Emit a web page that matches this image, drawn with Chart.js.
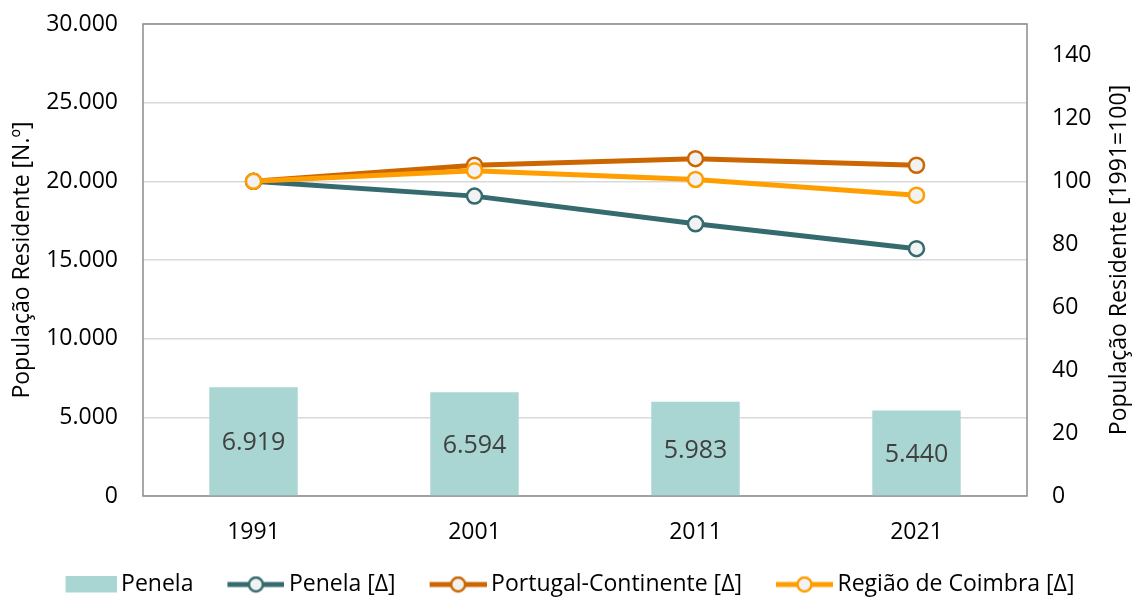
<!doctype html>
<html>
<head>
  <meta charset="utf-8" />
  <title>População Residente - Penela</title>
  <script src="https://cdn.jsdelivr.net/npm/chart.js"></script>
  <style>
    html, body { margin: 0; padding: 0; background: #fff; }
    #wrap { width: 1132px; height: 599px; }
  </style>
</head>
<body>
  <div id="wrap"><canvas id="chart"></canvas></div>

  <script>
    // data
    const years = ["1991", "2001", "2011", "2021"];
    const penelaPop = [6919, 6594, 5983, 5440];
    const penelaIdx = [100, 95.3, 86.5, 78.6];
    const continenteIdx = [100, 105.1, 107.2, 105.1];
    const coimbraIdx = [100, 103.4, 100.6, 95.6];
    const rightTicks = [0, 20, 40, 60, 80, 100, 120, 140];

    const FONT = "'Open Sans', sans-serif";
    const barColor = "#A9D6D2";
    const colPenela = "#356A6E";
    const colCont = "#CC6600";
    const colCoimbra = "#FF9E00";
    const markerFill = "#F2F2F2";

    function fmt(v) {
      return String(v).replace(/\B(?=(\d{3})+(?!\d))/g, ".");
    }

    // legend symbols: visible part sits at the right of a wider transparent image
    const SYM_W = 96;
    function barSymbol() {
      const c = document.createElement("canvas");
      c.width = SYM_W; c.height = 18;
      const g = c.getContext("2d");
      g.fillStyle = barColor;
      g.fillRect(SYM_W - 51, 0, 51, 17);
      return c;
    }
    function lineSymbol(color) {
      const c = document.createElement("canvas");
      c.width = SYM_W; c.height = 18;
      const g = c.getContext("2d");
      const x0 = SYM_W - 57;
      g.strokeStyle = color; g.lineWidth = 5;
      g.beginPath(); g.moveTo(x0, 9); g.lineTo(SYM_W, 9); g.stroke();
      g.beginPath(); g.arc(x0 + 28.5, 9, 7, 0, Math.PI * 2);
      g.fillStyle = markerFill; g.fill();
      g.lineWidth = 2.5; g.stroke();
      return c;
    }

    const barLabels = {
      id: "barLabels",
      afterDatasetsDraw(chart) {
        const ctx = chart.ctx;
        const meta = chart.getDatasetMeta(0);
        ctx.save();
        ctx.font = "25px " + FONT;
        ctx.fillStyle = "#404040";
        ctx.textAlign = "center";
        ctx.textBaseline = "middle";
        meta.data.forEach((bar, i) => {
          const p = bar.getProps(["x", "y", "base"], true);
          ctx.fillText(fmt(penelaPop[i]), p.x, (p.y + p.base) / 2 + 2);
        });
        ctx.restore();
      }
    };

    // plot frame + right axis title read bottom-to-top
    const frame = {
      id: "frame",
      beforeDatasetsDraw(chart) {
        const a = chart.chartArea, ctx = chart.ctx;
        ctx.save();
        ctx.strokeStyle = "#8C8C8C";
        ctx.lineWidth = 1.5;
        ctx.strokeRect(a.left, a.top, a.right - a.left, a.bottom - a.top);
        ctx.restore();
      },
      afterDraw(chart) {
        const a = chart.chartArea, ctx = chart.ctx;
        ctx.save();
        ctx.translate(1119, (a.top + a.bottom) / 2);
        ctx.rotate(-Math.PI / 2);
        ctx.font = "23px " + FONT;
        ctx.fillStyle = "#000";
        ctx.textAlign = "center";
        ctx.textBaseline = "middle";
        ctx.fillText("População Residente [1991=100]", 0, 0);
        ctx.restore();
      }
    };

    // nudge the legend a little (left and down)
    const legendShift = {
      id: "legendShift",
      afterLayout(chart) {
        const lg = chart.legend;
        if (!lg || lg._shifted) return;
        const draw = lg.draw;
        lg.draw = function (...args) {
          this.ctx.save();
          this.ctx.translate(-15, 7);
          draw.apply(this, args);
          this.ctx.restore();
        };
        lg._shifted = true;
      }
    };

    const lineDs = (label, data, color, order) => ({
      type: "line",
      label,
      data,
      yAxisID: "y1",
      borderColor: color,
      borderWidth: 5,
      pointRadius: 7.5,
      pointHoverRadius: 7.5,
      pointBorderWidth: 2.5,
      pointBackgroundColor: markerFill,
      pointBorderColor: color,
      tension: 0,
      order
    });

    const symbols = [barSymbol(), lineSymbol(colPenela), lineSymbol(colCont), lineSymbol(colCoimbra)];

    new Chart(document.getElementById("chart"), {
      data: {
        labels: years,
        datasets: [
          {
            type: "bar",
            label: "Penela",
            data: penelaPop,
            yAxisID: "y",
            backgroundColor: barColor,
            categoryPercentage: 0.4,
            barPercentage: 1,
            order: 4
          },
          lineDs("Penela [Δ]", penelaIdx, colPenela, 3),
          lineDs("Portugal-Continente [Δ]", continenteIdx, colCont, 2),
          lineDs("Região de Coimbra [Δ]", coimbraIdx, colCoimbra, 1)
        ]
      },
      options: {
        responsive: true,
        maintainAspectRatio: false,
        animation: false,
        layout: { padding: { left: 0, right: 0, top: 24, bottom: 0 } },
        plugins: {
          tooltip: { enabled: false },
          legend: {
            position: "bottom",
            labels: {
              usePointStyle: true,
              pointStyleWidth: SYM_W - 14,
              padding: 2,
              color: "#000",
              font: { family: FONT, size: 23 },
              generateLabels(chart) {
                return chart.data.datasets.map((ds, i) => ({
                  text: ds.label,
                  pointStyle: symbols[i],
                  fillStyle: "transparent",
                  strokeStyle: "transparent",
                  lineWidth: 0,
                  fontColor: "#000",
                  datasetIndex: i,
                  hidden: false
                }));
              }
            }
          }
        },
        scales: {
          x: {
            grid: { display: false, drawTicks: false },
            border: { display: false },
            ticks: { color: "#000", font: { family: FONT, size: 23 }, padding: 23 },
            afterFit(axis) { axis.height = 68; }
          },
          y: {
            position: "left",
            min: 0,
            max: 30000,
            afterFit(axis) { axis.width = 143; },
            ticks: {
              stepSize: 5000,
              color: "#000",
              padding: 0,
              font: { family: FONT, size: 23 },
              callback: v => fmt(v)
            },
            grid: { color: "#D9D9D9", lineWidth: 1.5, drawTicks: true, tickLength: 25, tickColor: "transparent" },
            border: { display: false },
            title: {
              display: true,
              text: "População Residente [N.º]",
              color: "#000",
              font: { family: FONT, size: 23 },
              padding: { top: 9, bottom: 0 }
            }
          },
          y1: {
            position: "right",
            min: 0,
            max: 150,
            afterBuildTicks(axis) {
              axis.ticks = rightTicks.map(v => ({ value: v }));
            },
            afterFit(axis) { axis.width = 105; },
            ticks: {
              color: "#000",
              padding: 0,
              font: { family: FONT, size: 23 }
            },
            grid: { display: false, drawOnChartArea: false, drawTicks: true, tickLength: 25, tickColor: "transparent" },
            border: { display: false }
          }
        }
      },
      plugins: [frame, barLabels, legendShift]
    });
  </script>
</body>
</html>
